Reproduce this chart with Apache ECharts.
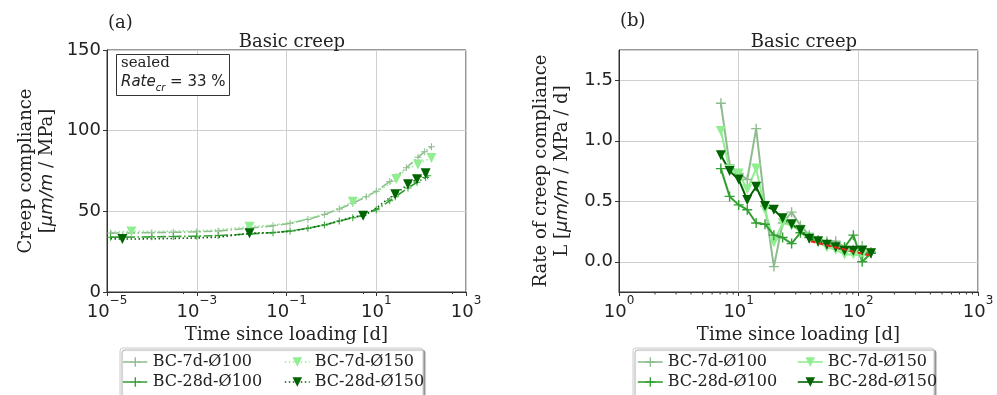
<!DOCTYPE html>
<html>
<head>
<meta charset="utf-8">
<script src="https://cdn.jsdelivr.net/npm/echarts@6/dist/echarts.min.js"></script>
<style>
  html, body { margin: 0; padding: 0; background: #fff; }
  #chart { width: 997px; height: 395px; }
</style>
</head>
<body>
<div id="chart"></div>
<script>
const seriesNames = ['BC-7d-Ø100', 'BC-7d-Ø150', 'BC-28d-Ø100', 'BC-28d-Ø150'];
const colors = ['#8fbc8f', '#90ee90', '#33a033', '#006400'];

// (a) creep compliance, time in days
const timeA7 = [1.2e-5, 3.5e-5, 1e-4, 3e-4, 1e-3, 3e-3, 0.015, 0.05, 0.12, 0.3, 0.7, 1.5, 3, 6, 10, 20, 28, 47, 85, 120, 170];
const compA7d100 = [36.5, 36.6, 36.8, 37.0, 37.3, 37.8, 39.6, 41, 42.6, 45, 48, 51.5, 55, 59, 62.5, 68.5, 71.5, 77, 83.5, 87, 90];
const compA7d150 = [37.5, 37.5, 37.6, 37.8, 38, 38.6, 40.5, 41.5, 43, 45.5, 48.5, 52, 56, 59.5, 62, 67, 70, 76.5, 79, 81.5, 83];
const timeA28 = [1.2e-5, 2.2e-5, 1e-4, 3e-4, 1e-3, 3e-3, 0.015, 0.05, 0.12, 0.3, 0.7, 1.5, 3, 5.1, 10, 20, 26.5, 51, 81, 126, 140];
const compA28d100 = [34, 34, 34.2, 34.4, 34.6, 35, 36, 36.8, 37.8, 39.5, 41.5, 44, 46, 47.5, 51, 56.5, 59, 64.5, 68, 71, 72];
const compA28d150 = [33, 32.8, 33, 33.2, 33.5, 34, 36.4, 36.8, 37.6, 39.5, 41.5, 44, 46.5, 47.2, 52, 58.5, 60.6, 66.8, 69.9, 73.6, 74.5];
// which points of the triangle series carry a marker
const marksA7d150 = [1, 6, 12, 16, 18, 20];
const marksA28d150 = [1, 6, 13, 16, 17, 18, 19];

// (b) rate of creep compliance
const timeB = [7.1, 8.4, 10, 11.8, 14, 16.6, 19.7, 23.3, 27.7, 32.8, 38.9, 46.1, 54.6, 64.7, 76.7, 90.9, 107.7, 127.6];
const rateB7d100 = [1.31, 0.80, 0.73, 0.68, 1.10, 0.46, -0.04, 0.32, 0.41, 0.30, 0.22, 0.18, 0.17, 0.17, 0.12, 0.10, 0.13, 0.08];
const rateB7d150 = [1.08, 0.76, 0.73, 0.60, 0.77, 0.43, 0.16, 0.32, 0.30, 0.25, 0.20, 0.16, 0.12, 0.10, 0.06, 0.06, 0.05, 0.07];
const rateB28d100 = [0.77, 0.54, 0.47, 0.43, 0.32, 0.31, 0.22, 0.20, 0.15, 0.24, 0.20, 0.17, 0.15, 0.13, 0.12, 0.22, 0.00, 0.07];
const rateB28d150 = [0.88, 0.75, 0.68, 0.51, 0.62, 0.46, 0.43, 0.36, 0.31, 0.26, 0.19, 0.17, 0.14, 0.12, 0.09, 0.09, 0.09, 0.07];
const fitTime = [40, 55, 90, 128];
const fitRate = [0.17, 0.135, 0.085, 0.05];
// log minor ticks of the (b) time axis
const minorTicksB = [2, 3, 4, 5, 6, 7, 8, 9, 20, 30, 40, 50, 60, 70, 80, 90, 200, 300, 400, 500, 600, 700, 800, 900];

const SERIF = 'DejaVu Serif';
const SANS = 'DejaVu Sans';
const PLUS = 'path://M4.3,0h1.4v4.3h4.3v1.4h-4.3v4.3h-1.4v-4.3h-4.3v-1.4h4.3z';
const TRI = 'path://M0,0L10,0L5,9z';
const DASHDOT = [9, 2.5, 1.5, 2.5];
const DOT = [1.5, 2.5];

function pairs(t, v) {
  return t.map((x, i) => [x, v[i]]);
}

function powLabel(v) {
  const e = Math.round(Math.log10(v));
  return '{b|10}{s|' + String(e).replace('-', '\u2212') + '}';
}
const powRich = {
  b: { fontFamily: SANS, fontSize: 18, color: '#222', lineHeight: 26, verticalAlign: 'bottom' },
  s: { fontFamily: SANS, fontSize: 12, color: '#222', lineHeight: 13, verticalAlign: 'top' }
};

function seriesA(i, t, v, symbol, marks, dash) {
  return {
    name: seriesNames[i], type: 'line', xAxisIndex: 0, yAxisIndex: 0,
    data: pairs(t, v),
    symbol: symbol,
    symbolSize: (val, p) => (marks == null || marks.includes(p.dataIndex)) ? (marks == null ? 7 : 10) : 0,
    showSymbol: true,
    itemStyle: { color: colors[i] },
    lineStyle: { color: colors[i], width: 1.6, type: dash },
    animation: false
  };
}

function seriesB(i, v, symbol) {
  return {
    name: seriesNames[i], type: 'line', xAxisIndex: 1, yAxisIndex: 1,
    data: pairs(timeB, v),
    symbol: symbol, symbolSize: 10, showSymbol: true,
    itemStyle: { color: colors[i] },
    lineStyle: { color: colors[i], width: 2 },
    animation: false
  };
}

function legendItem(i, dash) {
  return { name: seriesNames[i], itemStyle: { color: colors[i] }, lineStyle: { color: colors[i], width: 1.6, type: dash } };
}

function legendCol(left, items) {
  return {
    left: left, top: 353, orient: 'vertical', padding: 0, itemGap: 2, itemWidth: 25, itemHeight: 12,
    selectedMode: false, data: items,
    textStyle: { fontFamily: SERIF, fontSize: 16, color: '#222', lineHeight: 18 }
  };
}

const axisCommon = {
  axisLine: { show: true, onZero: false, lineStyle: { color: '#333', width: 1 } },
  axisTick: { show: true, length: 4, lineStyle: { color: '#333' } },
  splitLine: { show: true, lineStyle: { color: '#cfcfcf', width: 1 } }
};

const option = {
  animation: false,
  backgroundColor: '#fff',
  title: [
    { text: 'Basic creep', left: 287, top: 28, textAlign: 'center',
      textStyle: { fontFamily: SERIF, fontSize: 18, fontWeight: 'normal', color: '#222' } },
    { text: 'Basic creep', left: 799, top: 28, textAlign: 'center',
      textStyle: { fontFamily: SERIF, fontSize: 18, fontWeight: 'normal', color: '#222' } }
  ],
  grid: [
    { left: 107, top: 50, width: 359, height: 242, show: true, borderColor: '#333', borderWidth: 1, backgroundColor: 'transparent' },
    { left: 619, top: 50, width: 359, height: 242, show: true, borderColor: '#333', borderWidth: 1, backgroundColor: 'transparent' }
  ],
  xAxis: [
    Object.assign({}, axisCommon, {
      gridIndex: 0, type: 'log', logBase: 10, min: 1e-5, max: 1e3, interval: 2,
      minorTick: { show: true, splitNumber: 2, length: 2, lineStyle: { color: '#333' } },
      axisLabel: { formatter: powLabel, rich: powRich, margin: 3 },
      name: 'Time since loading [d]', nameLocation: 'middle', nameGap: 28,
      nameTextStyle: { fontFamily: SERIF, fontSize: 18, color: '#222', verticalAlign: 'top' }
    }),
    Object.assign({}, axisCommon, {
      gridIndex: 1, type: 'log', logBase: 10, min: 1, max: 1e3, interval: 1,
      axisLabel: { formatter: powLabel, rich: powRich, margin: 3 },
      name: 'Time since loading [d]', nameLocation: 'middle', nameGap: 28,
      nameTextStyle: { fontFamily: SERIF, fontSize: 18, color: '#222', verticalAlign: 'top' }
    })
  ],
  yAxis: [
    Object.assign({}, axisCommon, {
      gridIndex: 0, type: 'value', min: 0, max: 150, interval: 50,
      axisLabel: { fontFamily: SANS, fontSize: 18, color: '#222', margin: 6 },
      name: '{a|Creep compliance}\n{a|[}{i|μm/m}{a| / MPa]}',
      nameLocation: 'middle', nameRotate: 90, nameGap: 49,
      nameTextStyle: {
        align: 'center',
        rich: {
          a: { fontFamily: SERIF, fontSize: 18, color: '#222', lineHeight: 21 },
          i: { fontFamily: SANS, fontStyle: 'italic', fontSize: 18, color: '#222', lineHeight: 21 }
        }
      }
    }),
    Object.assign({}, axisCommon, {
      gridIndex: 1, type: 'value', min: -0.25, max: 1.75, splitNumber: 4,
      axisLabel: { fontFamily: SANS, fontSize: 18, color: '#222', margin: 6,
        showMinLabel: false, showMaxLabel: false, formatter: v => v.toFixed(1) },
      name: '{a|Rate of creep compliance}\n{a|L [}{i|μm/m}{a| / MPa / d]}',
      nameLocation: 'middle', nameRotate: 90, nameGap: 46,
      nameTextStyle: {
        align: 'center',
        rich: {
          a: { fontFamily: SERIF, fontSize: 18, color: '#222', lineHeight: 21 },
          i: { fontFamily: SANS, fontStyle: 'italic', fontSize: 18, color: '#222', lineHeight: 21 }
        }
      }
    })
  ],
  legend: [
    legendCol(122, [legendItem(0, DASHDOT), legendItem(2, DASHDOT)]),
    legendCol(284, [legendItem(1, DOT), legendItem(3, DOT)]),
    legendCol(637, [legendItem(0, 'solid'), legendItem(2, 'solid')]),
    legendCol(797, [legendItem(1, 'solid'), legendItem(3, 'solid')])
  ],
  graphic: [
    { type: 'text', left: 108, top: 14, style: { text: '(a)', fontFamily: SERIF, fontSize: 18, fill: '#222' } },
    { type: 'text', left: 620, top: 12, style: { text: '(b)', fontFamily: SERIF, fontSize: 18, fill: '#222' } },
    { type: 'rect', z: 1, shape: { x: 120, y: 348, width: 303, height: 60, r: 3 },
      style: { fill: '#fff', stroke: '#cccccc', lineWidth: 1, shadowColor: 'rgba(0,0,0,0.35)', shadowOffsetX: 2, shadowOffsetY: 2, shadowBlur: 1 } },
    { type: 'rect', z: 1, shape: { x: 633, y: 348, width: 301, height: 60, r: 3 },
      style: { fill: '#fff', stroke: '#cccccc', lineWidth: 1, shadowColor: 'rgba(0,0,0,0.35)', shadowOffsetX: 2, shadowOffsetY: 2, shadowBlur: 1 } },
    { type: 'rect', z: 10, shape: { x: 116.5, y: 54.5, width: 113, height: 41 },
      style: { fill: '#fff', stroke: '#333', lineWidth: 1 } },
    { type: 'text', z: 11, left: 121, top: 56, style: { text: 'sealed', fontFamily: SERIF, fontSize: 15, fill: '#222' } },
    { type: 'text', z: 11, left: 121, top: 75, style: {
        text: '{i|Rate}{s|cr}{n| = 33 %}',
        rich: {
          i: { fontFamily: SANS, fontStyle: 'italic', fontSize: 15, fill: '#222', lineHeight: 18, verticalAlign: 'top' },
          s: { fontFamily: SANS, fontStyle: 'italic', fontSize: 10, fill: '#222', lineHeight: 12, verticalAlign: 'bottom' },
          n: { fontFamily: SANS, fontSize: 15, fill: '#222', lineHeight: 18, verticalAlign: 'top' }
        } } }
  ],
  series: [
    seriesA(0, timeA7, compA7d100, PLUS, null, DASHDOT),
    seriesA(1, timeA7, compA7d150, TRI, marksA7d150, DOT),
    seriesA(2, timeA28, compA28d100, PLUS, null, DASHDOT),
    seriesA(3, timeA28, compA28d150, TRI, marksA28d150, DOT),
    seriesB(0, rateB7d100, PLUS),
    seriesB(1, rateB7d150, TRI),
    seriesB(2, rateB28d100, PLUS),
    seriesB(3, rateB28d150, TRI),
    {
      name: 'fit', type: 'line', xAxisIndex: 1, yAxisIndex: 1,
      data: pairs(fitTime, fitRate), showSymbol: false, symbol: 'none', z: 5,
      lineStyle: { color: '#e8261c', width: 2, type: [5, 3] }, animation: false
    },
    {
      name: 'minor ticks', type: 'custom', xAxisIndex: 1, yAxisIndex: 1, clip: false, silent: true,
      data: minorTicksB.map(v => [v, -0.25]),
      renderItem: (params, api) => {
        const p = api.coord([api.value(0), api.value(1)]);
        return { type: 'line', shape: { x1: p[0], y1: p[1], x2: p[0], y2: p[1] + 2.5 },
          style: { stroke: '#333', lineWidth: 1 } };
      },
      animation: false
    }
  ]
};

const chart = echarts.init(document.getElementById('chart'));
chart.setOption(option);
</script>
</body>
</html>
